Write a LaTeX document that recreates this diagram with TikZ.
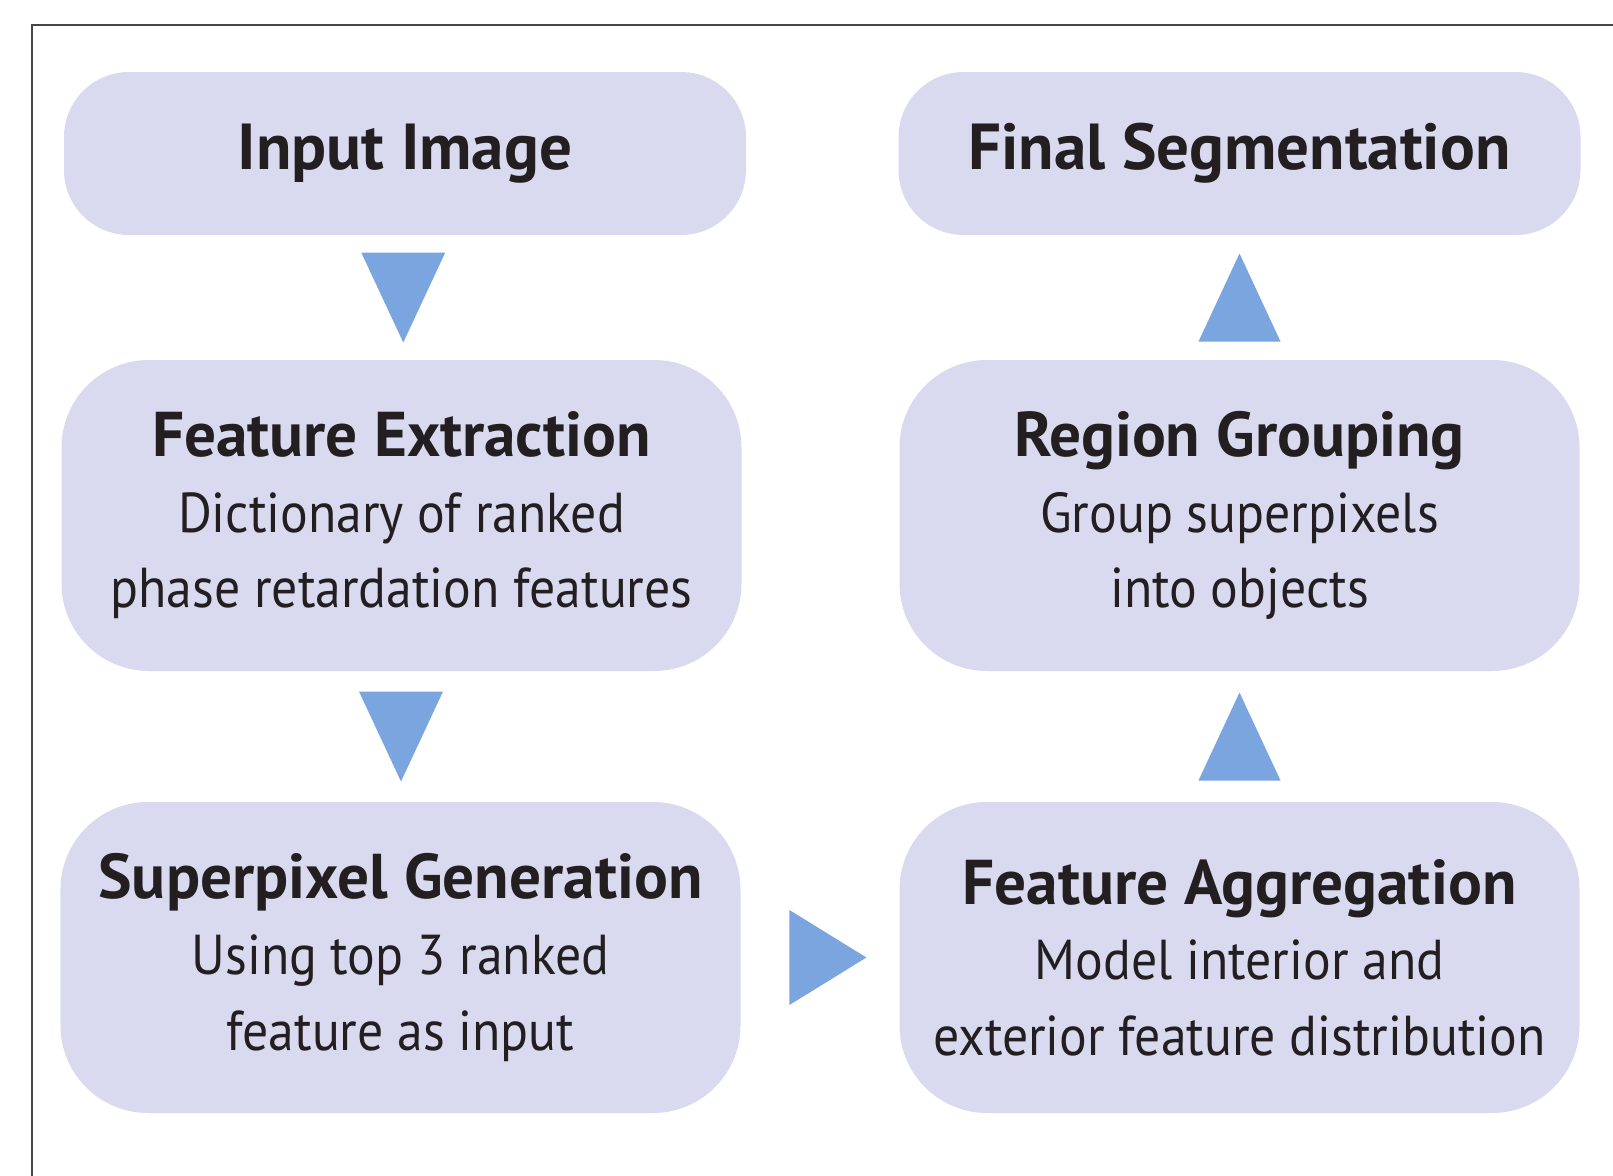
\documentclass[tikz,border=0pt]{standalone}
\usepackage{fontspec}
\setmainfont{PT Sans}
\newfontfamily\bodyfont{PT Sans}[FakeStretch=0.92]
\usepackage{xcolor}
\usepackage{tikz}
\usetikzlibrary{calc}
\definecolor{boxlavender}{RGB}{217, 218, 240}
\definecolor{triblue}{RGB}{122, 165, 222}
\definecolor{framegray}{RGB}{70, 70, 70}
\definecolor{textdark}{RGB}{35, 31, 32}

\begin{document}
\begin{tikzpicture}[
    stage/.style={rectangle, rounded corners=1.3cm, fill=boxlavender, minimum width=13.64cm, minimum height=3.26cm, inner sep=0pt, align=center, text=textdark, font=\fontsize{37}{43}\selectfont\bfseries},
    step box/.style={rectangle, rounded corners=1.75cm, fill=boxlavender, minimum width=13.6cm, minimum height=6.22cm, inner sep=0pt, align=center, text=textdark, font=\bodyfont\fontsize{32}{43}\selectfont},
    tri/.style={fill=triblue}
]
    \useasboundingbox (0, 0) rectangle (32.26, -23.52);

    % Frame
    \draw [framegray, line width=1.1pt] (0.64, -23.52) -- (0.64, -0.5) -- (32.26, -0.5);

    % Stages
    \node (in) [stage] at (8.10, -3.07) {Input Image};
    \node (fin) [stage] at (24.79, -3.07) {Final Segmentation};
    \node (fe) [step box] at (8.03, -10.31) {{\rmfamily\fontsize{36}{43}\selectfont\bfseries Feature Extraction}\\Dictionary of ranked\\phase retardation features};
    \node (rg) [step box] at (24.79, -10.31) {{\rmfamily\fontsize{36}{43}\selectfont\bfseries Region Grouping}\\Group superpixels\\into objects};
    \node (sp) [step box] at (8.01, -19.15) {{\rmfamily\fontsize{36}{43}\selectfont\bfseries Superpixel Generation}\\Using top 3 ranked\\feature as input};
    \node (fa) [step box] at (24.79, -19.15) {{\rmfamily\fontsize{36}{43}\selectfont\bfseries Feature Aggregation}\\Model interior and\\exterior feature distribution};

    % Triangle arrows
    \coordinate (a1) at ($(in.south)!0.5!(fe.north)$);
    \coordinate (a2) at ($(fe.south)!0.5!(sp.north)$);
    \coordinate (a3) at ($(sp.east)!0.55!(fa.west)$);
    \coordinate (a4) at ($(fa.north)!0.5!(rg.south)$);
    \coordinate (a5) at ($(rg.north)!0.5!(fin.south)$);

    \fill [tri] ($(a1)+(-0.84, 0.9)$) -- ($(a1)+(0.84, 0.9)$) -- ($(a1)+(0, -0.9)$) -- cycle;
    \fill [tri] ($(a2)+(-0.84, 0.9)$) -- ($(a2)+(0.84, 0.9)$) -- ($(a2)+(0, -0.9)$) -- cycle;
    \fill [tri] ($(a3)+(-0.77, 0.95)$) -- ($(a3)+(0.77, 0)$) -- ($(a3)+(-0.77, -0.95)$) -- cycle;
    \fill [tri] ($(a4)+(-0.82, -0.88)$) -- ($(a4)+(0.82, -0.88)$) -- ($(a4)+(0, 0.88)$) -- cycle;
    \fill [tri] ($(a5)+(-0.82, -0.88)$) -- ($(a5)+(0.82, -0.88)$) -- ($(a5)+(0, 0.88)$) -- cycle;

\end{tikzpicture}
\end{document}
